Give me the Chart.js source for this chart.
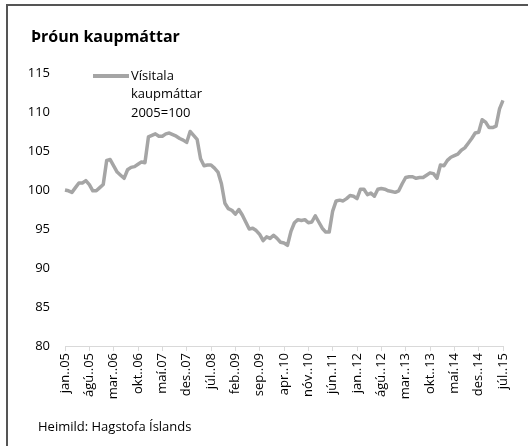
<!DOCTYPE html>
<html>
<head>
<meta charset="utf-8">
<script src="https://cdn.jsdelivr.net/npm/chart.js@4"></script>
<style>
    html, body { margin: 0; padding: 0; background: #fff; }
    #wrap { position: relative; width: 528px; height: 446px; }
</style>
</head>
<body>
<div id="wrap"><canvas id="kaupChart" width="528" height="446"></canvas></div>
<script>
// Vísitala kaupmáttar, mánaðarlega jan.05 - júl.15 (2005=100)
const monthNames = ["jan.", "feb.", "mar.", "apr.", "maí", "jún.", "júl.", "ágú.", "sep.", "okt.", "nóv.", "des."];
const years = ["05", "06", "07", "08", "09", "10", "11", "12", "13", "14", "15"];

const kaupValues = [
    100.0, 99.9, 99.7, 100.3, 100.9, 100.9, 101.2, 100.7, 99.9, 99.9, 100.3, 100.7,
    103.8, 103.9, 103.1, 102.3, 101.9, 101.5, 102.6, 102.9, 103.0, 103.3, 103.6, 103.5,
    106.8, 107.0, 107.2, 106.9, 106.9, 107.2, 107.3, 107.1, 106.9, 106.6, 106.4, 106.1,
    107.5, 107.0, 106.5, 104.0, 103.1, 103.2, 103.2, 102.8, 102.3, 100.8, 98.3, 97.6,
    97.4, 96.9, 97.5, 96.8, 95.9, 95.0, 95.1, 94.8, 94.3, 93.5, 94.0, 93.8,
    94.2, 93.8, 93.3, 93.2, 92.9, 94.7, 95.8, 96.2, 96.1, 96.2, 95.8, 95.9,
    96.7, 95.9, 95.1, 94.6, 94.6, 97.3, 98.6, 98.7, 98.6, 98.9, 99.3, 99.2,
    98.9, 100.1, 100.1, 99.4, 99.6, 99.2, 100.1, 100.2, 100.1, 99.9, 99.8, 99.7,
    99.9, 100.8, 101.6, 101.7, 101.7, 101.5, 101.6, 101.6, 101.9, 102.2, 102.1, 101.5,
    103.2, 103.1, 103.8, 104.2, 104.4, 104.6, 105.1, 105.4, 106.0, 106.6, 107.3, 107.4,
    109.0, 108.7, 108.0, 108.0, 108.2, 110.4, 111.5
];

const monthLabels = [];
years.forEach(y => {
    monthNames.forEach(m => {
        if (monthLabels.length < kaupValues.length) {
            monthLabels.push(m + "." + y);
        }
    });
});

const yTicks = [80, 85, 90, 95, 100, 105, 110, 115];
const labelStep = 7;

const titleText = "Þróun kaupmáttar";
const legendLines = ["Vísitala", "kaupmáttar", "2005=100"];
const sourceText = "Heimild: Hagstofa Íslands";

const lineColor = "#a5a5a5";
const fontFamily = "'Open Sans', sans-serif";

// frame, title, legend and source text
const decorPlugin = {
    id: "decor",
    beforeDraw(chart) {
        const ctx = chart.ctx;
        ctx.save();
        ctx.fillStyle = "#fff";
        ctx.fillRect(0, 0, chart.width, chart.height);
        ctx.strokeStyle = "#555";
        ctx.lineWidth = 2;
        ctx.beginPath();
        ctx.moveTo(7, chart.height);
        ctx.lineTo(7, 5);
        ctx.lineTo(chart.width, 5);
        ctx.stroke();
        ctx.restore();
    },
    afterDraw(chart) {
        const ctx = chart.ctx;
        ctx.save();
        ctx.fillStyle = "#000";
        ctx.textBaseline = "middle";
        ctx.textAlign = "left";
        ctx.font = "bold 16px " + fontFamily;
        ctx.fillText(titleText, 31, 37);

        // legend
        ctx.strokeStyle = lineColor;
        ctx.lineWidth = 4;
        ctx.beginPath();
        ctx.moveTo(93, 76);
        ctx.lineTo(129, 76);
        ctx.stroke();
        ctx.font = "13px " + fontFamily;
        legendLines.forEach((t, i) => ctx.fillText(t, 131, 76 + i * 18.5));

        ctx.font = "13px " + fontFamily;
        ctx.fillText(sourceText, 38, 427);
        ctx.restore();
    }
};

new Chart(document.getElementById("kaupChart"), {
    type: "line",
    data: {
        labels: monthLabels,
        datasets: [{
            label: legendLines.join(" "),
            data: kaupValues,
            borderColor: lineColor,
            borderWidth: 3.5,
            pointRadius: 0,
            tension: 0,
            borderJoinStyle: "round",
            fill: false
        }]
    },
    options: {
        responsive: false,
        animation: false,
        layout: { padding: { top: 73, right: 25, left: 0, bottom: 0 } },
        plugins: {
            legend: { display: false },
            title: { display: false },
            tooltip: { enabled: false }
        },
        scales: {
            x: {
                offset: false,
                afterFit: scale => { scale.height = 100; },
                grid: {
                    drawOnChartArea: false,
                    drawTicks: true,
                    tickLength: 5,
                    color: ctx => (ctx.index % labelStep === 0 ? "#d9d9d9" : "rgba(0,0,0,0)")
                },
                border: { color: "#d9d9d9", width: 1 },
                ticks: {
                    autoSkip: false,
                    maxRotation: 90,
                    minRotation: 90,
                    padding: 2,
                    color: "#000",
                    font: { family: fontFamily, size: 13 },
                    callback: function (val, index) {
                        return index % labelStep === 0 ? this.getLabelForValue(val) : "";
                    }
                }
            },
            y: {
                min: yTicks[0],
                max: yTicks[yTicks.length - 1],
                afterFit: scale => { scale.width = 65; },
                afterBuildTicks: scale => { scale.ticks = yTicks.map(v => ({ value: v })); },
                grid: { display: false, drawTicks: false },
                border: { display: false },
                ticks: {
                    padding: 15,
                    color: "#000",
                    font: { family: fontFamily, size: 13 }
                }
            }
        }
    },
    plugins: [decorPlugin]
});
</script>
</body>
</html>
